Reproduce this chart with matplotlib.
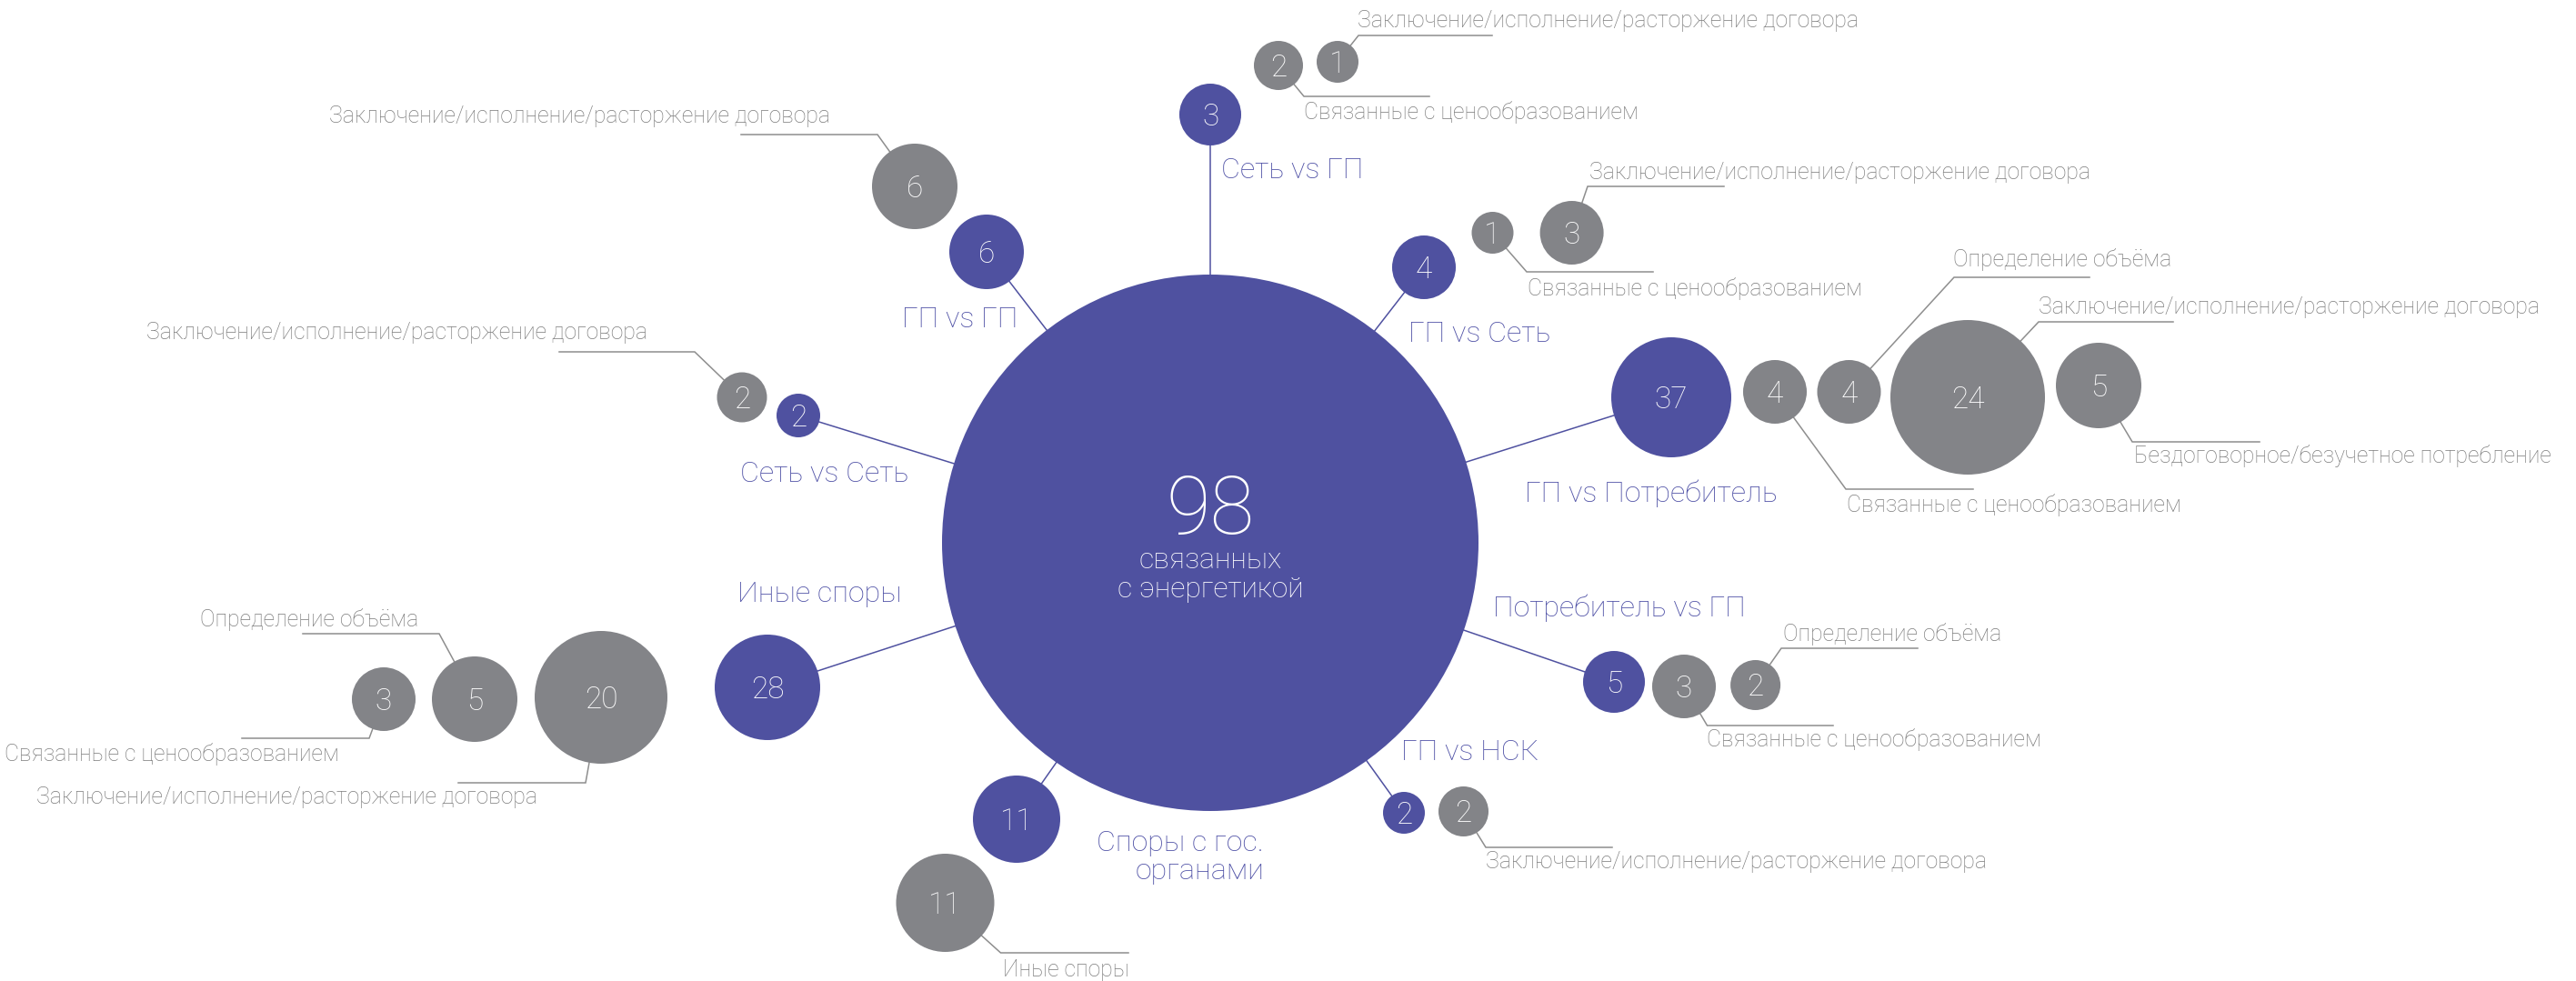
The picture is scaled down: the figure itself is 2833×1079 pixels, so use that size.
import matplotlib
matplotlib.use('Agg')
import matplotlib.pyplot as plt
from matplotlib.patches import Circle

plt.rcParams['font.family'] = ['Roboto', 'DejaVu Sans']

# ---------------- DATA ----------------
total_value = 98
total_caption = ["связанных", "с энергетикой"]

categories = ["Сеть vs ГП", "ГП vs ГП", "ГП vs Сеть", "Сеть vs Сеть",
              "ГП vs Потребитель", "Иные споры", "Потребитель vs ГП",
              "ГП vs НСК", "Споры с гос.\nорганами"]
category_values = [3, 6, 4, 2, 37, 28, 5, 2, 11]

sub_labels = [
    ["Связанные с ценообразованием", "Заключение/исполнение/расторжение договора"],
    ["Заключение/исполнение/расторжение договора"],
    ["Связанные с ценообразованием", "Заключение/исполнение/расторжение договора"],
    ["Заключение/исполнение/расторжение договора"],
    ["Связанные с ценообразованием", "Определение объёма",
     "Заключение/исполнение/расторжение договора", "Бездоговорное/безучетное потребление"],
    ["Связанные с ценообразованием", "Определение объёма",
     "Заключение/исполнение/расторжение договора"],
    ["Связанные с ценообразованием", "Определение объёма"],
    ["Заключение/исполнение/расторжение договора"],
    ["Иные споры"],
]
sub_values = [[2, 1], [6], [1, 3], [2], [4, 4, 24, 5], [3, 5, 20], [3, 2], [2], [11]]

# ---------------- LAYOUT (pixel space) ----------------
W, H = 2833, 1079
MAIN = (1331, 597, 295)
# cx, cy, r, label_x, label_y, ha
CAT_LAYOUT = [
    (1331, 126, 34, 1343, 188, 'left'),
    (1085, 277, 41, 992, 352, 'left'),
    (1566, 294, 35, 1549, 367, 'left'),
    (878, 457, 24, 814, 522, 'left'),
    (1838, 437, 66, 1677, 543, 'left'),
    (844, 756, 58, 811, 653, 'left'),
    (1775, 750, 34, 1642, 669, 'left'),
    (1544, 894, 23, 1541, 828, 'left'),
    (1118, 901, 48, 1390, 943, 'right'),
]
# cx, cy, r, elbow_x, elbow_y, end_x, label_x, label_y, ha
SUB_LAYOUT = [
    [(1406, 72, 27, 1434, 106, 1572, 1434, 123, 'left'),
     (1471, 68, 23, 1494, 39, 1641, 1493, 23, 'left')],
    [(1006, 205, 47, 965, 148, 815, 913, 128, 'right')],
    [(1641.5, 256, 23, 1679, 299, 1818, 1680, 317, 'left'),
     (1728.6, 256, 35, 1746, 205, 1896, 1748, 190, 'left')],
    [(816, 437, 27.5, 764, 387, 615, 712, 366, 'right')],
    [(1952, 431, 35, 2030, 538, 2170, 2031, 555, 'left'),
     (2033.5, 431, 35, 2149, 305, 2298, 2148, 286, 'left'),
     (2164, 437, 85, 2242, 354, 2390, 2242, 338, 'left'),
     (2308, 424, 47, 2345, 486, 2485, 2347, 502, 'left')],
    [(422, 769, 35, 406, 812, 266, 373, 829, 'right'),
     (522, 769, 47, 483, 697, 333, 460, 682, 'right'),
     (661, 767, 73, 644, 861, 504, 591, 877, 'right')],
    [(1852, 755, 35, 1877.5, 798, 2016, 1877, 813, 'left'),
     (1930.6, 753.5, 27.5, 1959, 713, 2109, 1961, 698, 'left')],
    [(1609.5, 892.5, 27.5, 1634, 932, 1773, 1634, 948, 'left')],
    [(1039.5, 993, 54, 1100.5, 1048, 1241, 1103, 1067, 'left')],
]

PURPLE = '#4F51A0'
GRAY = '#838488'
TEXT_GRAY = '#7C7C7C'
LINE_GRAY = '#8E8E8E'
LABEL_PURPLE = '#4F51A6'

NUM_FS = 24
SUB_FS = 17.8
CAT_FS = 23.2
WEIGHT = 'light'

fig = plt.figure(figsize=(W / 100, H / 100), dpi=100)
ax = fig.add_axes([0, 0, 1, 1])
ax.set_xlim(0, W)
ax.set_ylim(H, 0)
ax.set_aspect('equal')
ax.axis('off')


def number(x, y, val, fs):
    digit_h = 0.71 * fs / 0.72  # px
    ax.text(x, y + digit_h / 2, str(val), color='white', fontsize=fs,
            ha='center', va='baseline', zorder=6, fontweight=WEIGHT)


mx, my, mr = MAIN
ax.add_patch(Circle((mx, my), mr, facecolor=PURPLE, edgecolor='none', zorder=3))
ax.text(mx, 587, str(total_value), color='white', fontsize=64, ha='center',
        va='baseline', zorder=6, fontweight=WEIGHT)
for i, line in enumerate(total_caption):
    ax.text(mx, 625 + i * 32, line, color='white', fontsize=23, ha='center',
            va='baseline', zorder=6, fontweight=WEIGHT)

for ci, (name, val) in enumerate(zip(categories, category_values)):
    cx, cy, r, lx, ly, ha = CAT_LAYOUT[ci]
    ax.plot([cx, mx], [cy, my], color=PURPLE, lw=1.1, zorder=1, solid_capstyle='butt')
    ax.add_patch(Circle((cx, cy), r, facecolor=PURPLE, edgecolor='none', zorder=4))
    number(cx, cy, val, NUM_FS)
    ax.text(lx, ly, name, color=LABEL_PURPLE, fontsize=CAT_FS, ha=ha, va='center',
            multialignment=ha, linespacing=1.05, zorder=6, fontweight=WEIGHT)
    for si, (sl, sv) in enumerate(zip(sub_labels[ci], sub_values[ci])):
        sx, sy, sr, ex, ey, endx, tx, ty, tha = SUB_LAYOUT[ci][si]
        ax.plot([sx, ex, endx], [sy, ey, ey], color=LINE_GRAY, lw=1.1, zorder=1,
                solid_joinstyle='miter')
        ax.add_patch(Circle((sx, sy), sr, facecolor=GRAY, edgecolor='none', zorder=4))
        number(sx, sy, sv, NUM_FS)
        ax.text(tx, ty, sl, color=TEXT_GRAY, fontsize=SUB_FS, ha=tha, va='center',
                zorder=6, fontweight=WEIGHT)

fig.savefig('out.png', dpi=100, facecolor='white')
